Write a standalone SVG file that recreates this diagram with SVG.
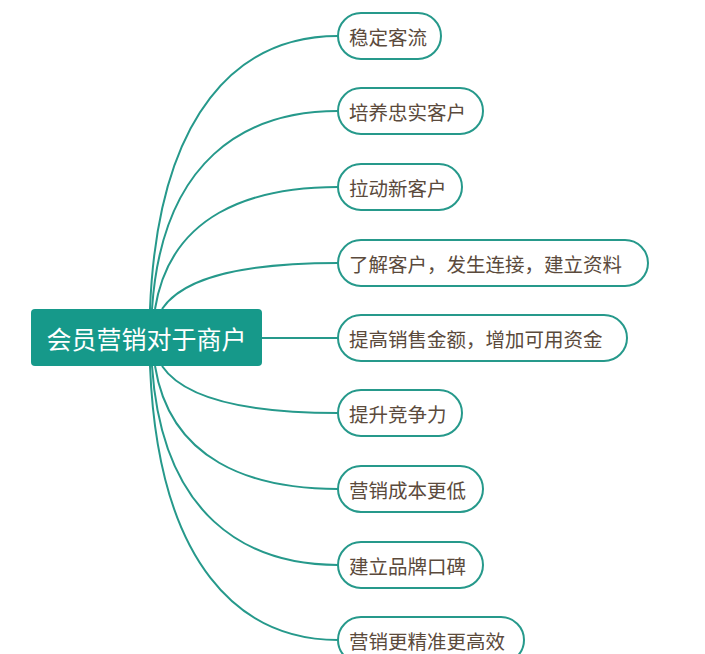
<svg xmlns="http://www.w3.org/2000/svg" width="705" height="654" viewBox="0 0 705 654">
<style>
.c{fill:none;stroke:#26998b;stroke-width:2}
.n rect{fill:#fff;stroke:#26998b;stroke-width:2}
.n text{font-family:"Noto Sans CJK SC",sans-serif;font-size:19.5px;fill:#5b4a3c;dominant-baseline:central}
</style>
<rect width="705" height="654" fill="#fff"/>
<g id="connectors">
<path class="c" d="M150,309 C158,110 240,36 338,36"/>
<path class="c" d="M152,309 C162,160 245,111 338,111"/>
<path class="c" d="M155,309 C170,215 250,187 338,187"/>
<path class="c" d="M162,309 C185,275 250,263 338,263"/>
<path class="c" d="M262,338 L338,338"/>
<path class="c" d="M162,366 C185,400 250,413 338,413"/>
<path class="c" d="M155,366 C170,460 250,489 338,489"/>
<path class="c" d="M152,366 C162,515 245,565 338,565"/>
<path class="c" d="M150,366 C158,565 240,640 338,640"/>
</g>
<g id="root">
<rect x="31" y="309" width="231" height="57" rx="4" fill="#16998a"/>
<text x="146.5" y="338" font-family="Noto Sans CJK SC,sans-serif" font-size="25" fill="#fff" text-anchor="middle" dominant-baseline="central">会员营销对于商户</text>
</g>
<g id="n1" class="n"><rect x="338" y="13" width="103" height="46" rx="23"/><text x="349" y="36">稳定客流</text></g>
<g id="n2" class="n"><rect x="338" y="88" width="145" height="46" rx="23"/><text x="349" y="111">培养忠实客户</text></g>
<g id="n3" class="n"><rect x="338" y="164" width="124" height="46" rx="23"/><text x="349" y="187">拉动新客户</text></g>
<g id="n4" class="n"><rect x="338" y="240" width="310" height="46" rx="23"/><text x="349" y="263">了解客户，发生连接，建立资料</text></g>
<g id="n5" class="n"><rect x="338" y="315" width="289" height="46" rx="23"/><text x="349" y="338">提高销售金额，增加可用资金</text></g>
<g id="n6" class="n"><rect x="338" y="390" width="124" height="46" rx="23"/><text x="349" y="413">提升竞争力</text></g>
<g id="n7" class="n"><rect x="338" y="466" width="145" height="46" rx="23"/><text x="349" y="489">营销成本更低</text></g>
<g id="n8" class="n"><rect x="338" y="542" width="145" height="46" rx="23"/><text x="349" y="565">建立品牌口碑</text></g>
<g id="n9" class="n"><rect x="338" y="617" width="186" height="46" rx="23"/><text x="349" y="640">营销更精准更高效</text></g>
</svg>
